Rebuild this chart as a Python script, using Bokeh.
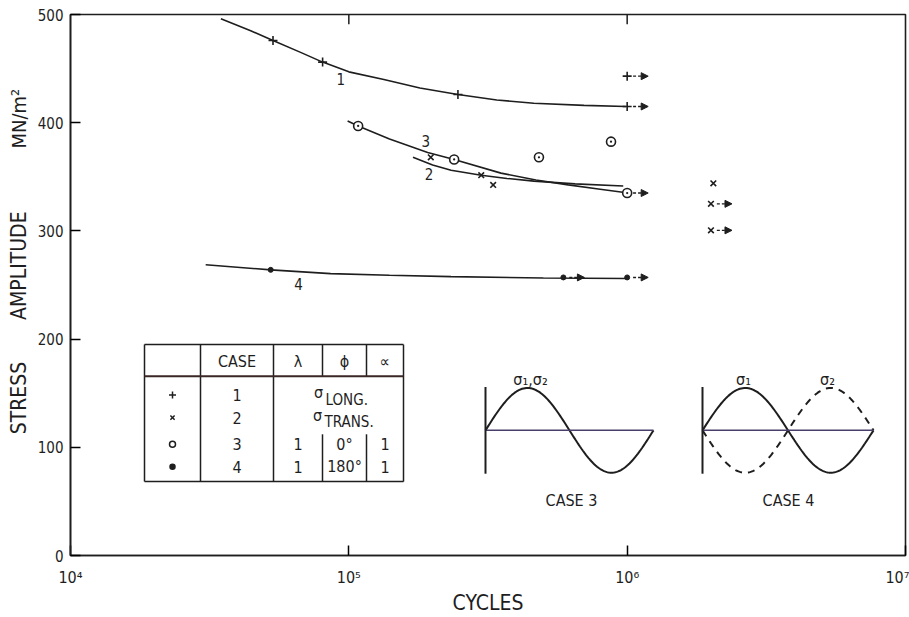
import numpy as np
from bokeh.plotting import figure
from bokeh.layouts import row
from bokeh.models import (Arrow, NormalHead, ColumnDataSource, Range1d,
                          FixedTicker, CustomJSTickFormatter)
from bokeh.core.properties import value
from bokeh.embed import file_html
from bokeh.resources import INLINE

FONT = "DejaVu Sans Condensed"
INK = "#1e1e1e"

# ---------------- data ----------------
x_ticks = [1e4, 1e5, 1e6, 1e7]
x_tick_labels = ["10\u2074", "10\u2075", "10\u2076", "10\u2077"]
y_ticks = [0, 100, 200, 300, 400, 500]
y_title = ["STRESS", "AMPLITUDE", "MN/m\u00b2"]

# case 1 (sigma long.)  '+'
c1_curve_x = [34.7e3, 44.4e3, 53.4e3, 67.1e3, 80.5e3, 100e3, 133.6e3, 180e3, 246.6e3,
              340e3, 462e3, 700e3, 990e3]
c1_curve_y = [496, 485, 476, 465, 456, 447, 440, 432, 426, 421, 418, 416, 415]
c1_x = [53.4e3, 80.5e3, 246.6e3, 1.0e6, 1.0e6]
c1_y = [476, 456, 426, 415, 443]
c1_run = [False, False, False, True, True]

# case 2 (sigma trans.)  'x'
c2_curve_x = [170e3, 200e3, 233e3, 299e3, 370e3, 462e3, 650e3, 968e3]
c2_curve_y = [368, 361, 356, 351.5, 348.5, 346, 343.5, 341.5]
c2_x = [197e3, 299e3, 330e3, 2.04e6, 2.0e6, 2.0e6]
c2_y = [368, 351.5, 342.5, 344, 325, 300.5]
c2_run = [False, False, False, False, True, True]

# case 3 (lambda 1, phi 0)  open circle
c3_curve_x = [99e3, 108e3, 140e3, 192e3, 239e3, 352e3, 470e3, 614e3, 800e3, 1.01e6]
c3_curve_y = [401.6, 397, 385, 372.5, 366, 353.4, 347, 342.5, 338.5, 335]
c3_x = [108e3, 239e3, 482e3, 875e3, 1.0e6]
c3_y = [397, 366, 368, 382.5, 335]
c3_run = [False, False, False, False, True]

# case 4 (lambda 1, phi 180)  filled dot
c4_curve_x = [30.6e3, 52.4e3, 86e3, 140e3, 233e3, 500e3, 990e3]
c4_curve_y = [268.7, 264, 260.5, 259, 257.7, 256.5, 256]
c4_x = [52.4e3, 590e3, 1.0e6]
c4_y = [264, 257, 257]
c4_run = [False, True, True]

curve_labels = ["1", "2", "3", "4"]
curve_label_x = [93.5e3, 194e3, 189e3, 66e3]
curve_label_y = [440, 353, 383, 251]

# table content
tab_header = ["CASE", "\u03bb", "\u03d5", "\u221d"]
tab_cases = ["1", "2", "3", "4"]
tab_lambda = ["1", "1"]      # cases 3, 4
tab_phi = ["0\u00b0", "180\u00b0"]
tab_alpha = ["1", "1"]

# ---------------- layout ----------------
W, H = 909, 617
SIDE = 32
FL, FR, FT, FB = 70, 905, 14, 563

# narrow strip holding the rotated y-axis title; its frame is aligned with the
# main frame (FT..FB), so y = H - pixel-from-top
side = figure(width=SIDE, height=H, x_range=Range1d(0, SIDE),
              y_range=Range1d(H - FB, H - FT),
              output_backend="svg", toolbar_location=None, x_axis_location=None,
              y_axis_location=None, min_border=0)
side.outline_line_color = None
side.grid.visible = False
side.background_fill_color = "white"
side.border_fill_color = "white"
# bottom ends of each title piece (pixel rows from the top of the picture)
side.text([18, 18], [H - 440, H - 324], text=y_title[:2], angle=np.pi / 2,
          text_font=value(FONT), text_font_size="21px", text_color=INK,
          text_align="left", text_baseline="middle")
side.text([18], [H - 150], text=y_title[2:], angle=np.pi / 2,
          text_font=value(FONT), text_font_size="20px", text_color=INK,
          text_align="left", text_baseline="middle")

p = figure(width=W - SIDE, height=H, x_axis_type="log", x_range=(1e4, 1e7),
           y_range=(0, 500), output_backend="svg", toolbar_location=None,
           min_border_left=FL - SIDE, min_border_right=W - FR, min_border_top=FT,
           min_border_bottom=H - FB)
p.background_fill_color = "white"
p.border_fill_color = "white"
p.outline_line_color = INK
p.outline_line_width = 1.6
p.grid.visible = False


def dx(px):
    return 10 ** (4 + 3 * (px - FL) / (FR - FL))


def dy(py):
    return 500 * (FB - py) / (FB - FT)


xa = p.xaxis[0]
xa.ticker = FixedTicker(ticks=x_ticks)
xa.formatter = CustomJSTickFormatter(args=dict(tvals=x_ticks, tlabels=x_tick_labels), code="""
    let best = 0, bd = 1e99;
    for (let i = 0; i < tvals.length; i++) {
        const d = Math.abs(Math.log10(tvals[i]) - Math.log10(tick));
        if (d < bd) { bd = d; best = i; }
    }
    return tlabels[best];
""")
xa.major_tick_in = 10
xa.major_tick_out = 0
xa.minor_tick_line_color = None
xa.axis_line_width = 1.6
xa.axis_line_color = INK
xa.major_tick_line_width = 1.5
xa.major_label_text_font = FONT
xa.major_label_text_font_size = "16px"
xa.major_label_text_color = INK
xa.major_label_standoff = 12
xa.axis_label = "CYCLES"
xa.axis_label_text_font = FONT
xa.axis_label_text_font_size = "21px"
xa.axis_label_text_font_style = "normal"
xa.axis_label_text_color = INK
xa.axis_label_standoff = 1

ya = p.yaxis[0]
ya.ticker = FixedTicker(ticks=y_ticks)
ya.major_tick_in = 10
ya.major_tick_out = 0
ya.minor_tick_line_color = None
ya.axis_line_width = 1.6
ya.axis_line_color = INK
ya.major_tick_line_width = 1.5
ya.major_label_text_font = FONT
ya.major_label_text_font_size = "15px"
ya.major_label_text_color = INK
ya.major_label_standoff = 7

# inward ticks on the top edge at the inner decades
inner = x_ticks[1:3]
p.segment(x0=inner, y0=[500] * len(inner), x1=inner, y1=[dy(FT + 10)] * len(inner),
          line_color=INK, line_width=1.5)

# ---------------- curves & points ----------------
for cx, cy in [(c1_curve_x, c1_curve_y), (c2_curve_x, c2_curve_y),
               (c3_curve_x, c3_curve_y), (c4_curve_x, c4_curve_y)]:
    p.line(cx, cy, line_color=INK, line_width=1.6)

p.scatter(c1_x, c1_y, marker="cross", size=9, line_color=INK, line_width=1.6)
p.scatter(c2_x, c2_y, marker="x", size=8, line_color=INK, line_width=1.6)
p.scatter(c3_x, c3_y, marker="circle_dot", size=9, line_color=INK, line_width=1.6,
          fill_color="white")
p.scatter(c4_x, c4_y, marker="circle", size=5, line_color=INK, fill_color=INK)

# run-out arrows
rx, ry = [], []
for xs, ys, rs in [(c1_x, c1_y, c1_run), (c2_x, c2_y, c2_run),
                   (c3_x, c3_y, c3_run), (c4_x, c4_y, c4_run)]:
    for a, b, r in zip(xs, ys, rs):
        if r:
            rx.append(a)
            ry.append(b)
asrc = ColumnDataSource(dict(x0=[v * 1.05 for v in rx], x1=[v * 1.19 for v in rx], y=ry))
p.add_layout(Arrow(source=asrc, x_start="x0", y_start="y", x_end="x1", y_end="y",
                   line_color=INK, line_width=1.4, line_dash="3 2",
                   end=NormalHead(size=7, fill_color=INK, line_color=INK)))

p.text(curve_label_x, curve_label_y, text=curve_labels, text_font=value(FONT),
       text_font_size="15px", text_color=INK, text_align="center",
       text_baseline="middle")

# ---------------- legend table ----------------
TL, TR, TT, TB = 144, 403, 349, 488
HY = 381
C1, C2, C3, C4 = 200, 273, 322, 366
LOWTOP = 440
seg = dict(x0=[], y0=[], x1=[], y1=[])


def add_seg(a, b, c, d):
    seg["x0"].append(dx(a)); seg["y0"].append(dy(b))
    seg["x1"].append(dx(c)); seg["y1"].append(dy(d))


add_seg(TL, TT, TR, TT); add_seg(TL, TB, TR, TB)
add_seg(TL, TT, TL, TB); add_seg(TR, TT, TR, TB)
add_seg(C1, TT, C1, TB); add_seg(C2, TT, C2, TB)
for cx in (C3, C4):
    add_seg(cx, TT, cx, HY); add_seg(cx, LOWTOP, cx, TB)
p.segment(x0=seg["x0"], y0=seg["y0"], x1=seg["x1"], y1=seg["y1"], line_color=INK,
          line_width=1.5)
p.segment(x0=[dx(TL)], y0=[dy(HY)], x1=[dx(TR)], y1=[dy(HY)], line_color="#3b2626",
          line_width=2)

row_y = [400, 423, 450, 473]
hdr_x = [(C1 + C2) / 2, (C2 + C3) / 2, (C3 + C4) / 2, (C4 + TR) / 2]
p.text([dx(v) for v in hdr_x], [dy(366)] * 4, text=tab_header, text_font=value(FONT),
       text_font_size="16px", text_color=INK, text_align="center", text_baseline="middle")
p.text([dx((C1 + C2) / 2)] * 4, [dy(v) for v in row_y], text=tab_cases,
       text_font=value(FONT), text_font_size="16px", text_color=INK,
       text_align="center", text_baseline="middle")
for col, cxp in [(tab_lambda, (C2 + C3) / 2), (tab_phi, (C3 + C4) / 2),
                 (tab_alpha, (C4 + TR) / 2)]:
    p.text([dx(cxp)] * 2, [dy(v) for v in row_y[2:]], text=col, text_font=value(FONT),
           text_font_size="16px", text_color=INK, text_align="center",
           text_baseline="middle")

sx = dx((TL + C1) / 2)
for mk, ry_, sz, fill in zip(["cross", "x", "circle", "circle"], row_y, [7, 6, 6, 5],
                             ["white", "white", "white", INK]):
    p.scatter([sx], [dy(ry_)], marker=mk, size=sz, line_color=INK, line_width=1.5,
              fill_color=fill)

p.text([dx(318), dx(317)], [dy(398), dy(421)], text=["\u03c3", "\u03c3"],
       text_font=value(FONT), text_font_size="16px", text_color=INK,
       text_align="center", text_baseline="middle")
p.text([dx(325), dx(324)], [dy(405), dy(428)], text=["LONG.", "TRANS."],
       text_font=value(FONT), text_font_size="15px", text_color=INK,
       text_align="left", text_baseline="middle")

# ---------------- sine schematics ----------------
t = np.linspace(0, 1, 120)
SC = 436
AMP = 43
for x0, x1, dashed in [(485, 653, False), (702, 873, True)]:
    xs = x0 + t * (x1 - x0)
    p.line([dx(v) for v in xs], [dy(SC - AMP * np.sin(2 * np.pi * s)) for s in t],
           line_color=INK, line_width=2)
    if dashed:
        p.line([dx(v) for v in xs], [dy(SC + AMP * np.sin(2 * np.pi * s)) for s in t],
               line_color=INK, line_width=2, line_dash="7 6")
    p.segment(x0=[dx(x0)], y0=[dy(SC)], x1=[dx(x1)], y1=[dy(SC)], line_color="#4a3f6a",
              line_width=1.5)
    p.segment(x0=[dx(x0)], y0=[dy(392)], x1=[dx(x0)], y1=[dy(480)], line_color=INK,
              line_width=2)

p.text([dx(530), dx(743), dx(827)], [dy(384)] * 3,
       text=["\u03c3\u2081,\u03c3\u2082", "\u03c3\u2081", "\u03c3\u2082"],
       text_font=value(FONT), text_font_size="16px", text_color=INK,
       text_align="center", text_baseline="middle")
p.text([dx(571), dx(788)], [dy(507)] * 2, text=["CASE 3", "CASE 4"],
       text_font=value(FONT), text_font_size="16px", text_color=INK,
       text_align="center", text_baseline="middle")

layout = row(side, p, spacing=0)
open("out.html", "w").write(file_html(layout, INLINE))
